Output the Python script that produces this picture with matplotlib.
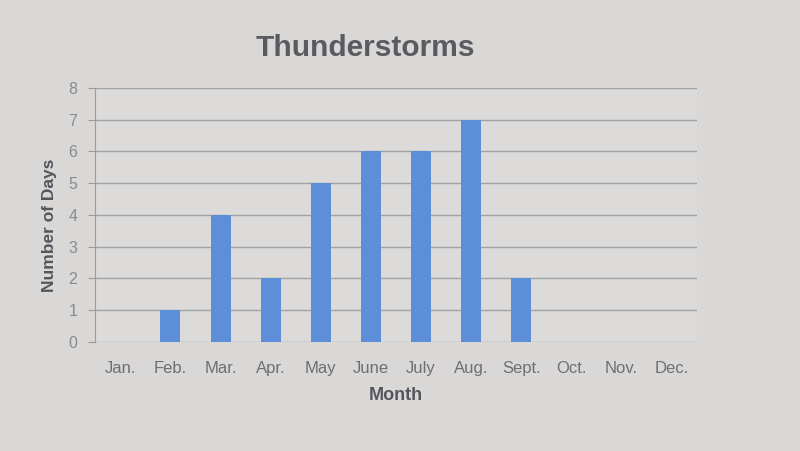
import matplotlib
matplotlib.use("Agg")
import matplotlib.pyplot as plt

plt.rcParams["font.family"] = ["Liberation Sans", "DejaVu Sans"]

months = ["Jan.", "Feb.", "Mar.", "Apr.", "May", "June", "July", "Aug.", "Sept.", "Oct.", "Nov.", "Dec."]
days = [0, 1, 4, 2, 5, 6, 6, 7, 2, 0, 0, 0]
yticks = [0, 1, 2, 3, 4, 5, 6, 7, 8]

bg = "#d9d8d6"
fig = plt.figure(figsize=(8, 4.51), dpi=100, facecolor=bg)
ax = fig.add_axes([0.119, 0.242, 0.752, 0.563], facecolor="#dcdbd9")
x = list(range(len(months)))
ax.bar(x, days, width=0.4, color="#5c8fd8", zorder=3)
ax.set_xlim(-0.5, len(months) - 0.5)
ax.set_ylim(0, 8)
ax.set_yticks(yticks)
ax.set_xticks(x)
ax.set_xticklabels(months, fontsize=12, color="#6e6e74")
ax.tick_params(axis="y", labelsize=11.5, labelcolor="#8a8a8e", color="#9a9a9a", length=5, pad=8)
ax.tick_params(axis="x", length=0, pad=14)
ax.grid(axis="y", color="#a2a2a6", linewidth=1.0, zorder=0)
for s in ["top", "right", "bottom"]:
    ax.spines[s].set_visible(False)
ax.spines["left"].set_color("#9c9ca0")
fig.text(365 / 800, 1 - 48 / 451, "Thunderstorms", fontsize=21.5, fontweight="bold",
         color="#5a5a60", ha="center", va="center")
ax.set_ylabel("Number of Days", fontsize=12.5, fontweight="bold", color="#55555c", labelpad=8)
ax.yaxis.set_label_coords(-0.063, 0.46)
ax.set_xlabel("Month", fontsize=13, fontweight="bold", color="#55555c", labelpad=8)
fig.savefig("out.png", dpi=100, facecolor=bg)
